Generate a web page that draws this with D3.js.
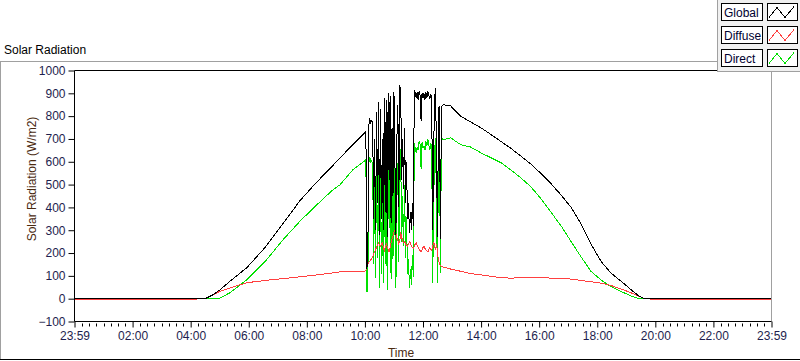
<!DOCTYPE html>
<html>
<head>
<meta charset="utf-8">
<script src="https://cdn.jsdelivr.net/npm/d3@7"></script>
<style>
  body { margin: 0; background: #fff; }
  svg { display: block; font-family: "Liberation Sans", Arial, sans-serif; }
</style>
</head>
<body>
<svg id="chart" width="800" height="361"></svg>
<script>
// minutes after midnight
var minutes = [0, 60, 120, 180, 240, 253, 262, 269, 274, 286, 300, 321, 356, 394, 431, 466, 500, 530, 549, 575, 600,
  602, 604, 606, 608, 610, 612, 614, 616, 618, 620, 622, 624, 626, 628, 630, 632, 634, 636, 638, 640,
  642, 644, 646, 648, 650, 652, 654, 656, 658, 660, 662, 664, 666, 668, 670, 672, 674, 676, 678, 680,
  682, 684, 686, 688, 690, 692, 694, 696, 698, 700, 702, 704, 706, 708, 710, 712, 714, 716, 718, 720,
  722, 724, 726, 728, 730, 732, 734, 736, 738, 740, 742, 744, 746, 748, 750, 752, 754, 756, 758, 760,
  762, 777, 798, 818, 839, 860, 881, 901, 922, 943, 963, 984, 1005, 1026, 1046, 1067, 1088, 1108, 1133, 1154, 1167, 1177,
  1184, 1190, 1260, 1340, 1440];

var globalRad = [0, 0, 0, 0, 0, 0, 0, 0, 4, 17, 38, 76, 136, 225, 330, 430, 510, 575, 618, 675, 728,
  736, 130, 170, 760, 790, 770, 780, 775, 350, 700, 300, 820, 420, 860, 280, 830, 350, 700, 300, 880,
  380, 870, 270, 900, 520, 890, 330, 750, 450, 905, 600, 280, 700, 850, 400, 935, 900, 520, 700, 480,
  750, 420, 600, 350, 420, 290, 380, 300, 420, 320, 915, 900, 880, 905, 870, 910, 890, 780, 900, 880,
  900, 870, 905, 880, 910, 890, 875, 895, 880, 300, 650, 880, 925, 600, 270, 830, 845, 260, 840, 845,
  850, 845, 800, 775, 750, 720, 689, 660, 625, 590, 550, 505, 455, 400, 330, 240, 163, 113, 70, 32, 10, 0,
  0, 0, 0, 0, 0];

var diffuseRad = [-5, -5, -5, -5, -5, -5, null, 0, 6, 17, 32, 47, 70, 80, 88, 96, 104, 112, 118, 118, 120,
  125, 140, 150, 160, 165, 170, 175, 185, 195, 205, 215, 225, 235, 245, 235, 230, 240, 245, 225, 210,
  225, 240, 230, 215, 205, 225, 245, 260, 275, 290, 300, 285, 265, 255, 240, 250, 290, 270, 250, 245,
  250, 240, 235, 230, 240, 250, 245, 230, 225, 220, 230, 240, 245, 235, 225, 215, 210, 205, 215, 225,
  230, 220, 215, 210, 205, 215, 225, 215, 210, 230, 250, 230, 215, 240, 200, 170, 150, 145, 140, 140,
  138, 130, 120, 110, 105, 98, 92, 90, 92, 95, 94, 90, 88, 86, 80, 74, 68, 58, 40, 22, 10, 0,
  null, -5, -5, -5, -5];

var directRad = [0, 0, 0, 0, 0, 0, 0, 0, 0, 0, 2, 26, 83, 163, 259, 340, 410, 470, 500, 565, 605,
  610, 30, 40, 595, 620, 600, 605, 590, 150, 490, 90, 600, 180, 610, 45, 600, 110, 450, 70, 640,
  150, 630, 40, 665, 310, 660, 85, 490, 175, 640, 300, 45, 430, 595, 160, 670, 610, 250, 450, 230,
  500, 180, 360, 110, 175, 45, 130, 60, 190, 95, 680, 660, 640, 665, 650, 690, 675, 570, 685, 660,
  670, 650, 690, 670, 700, 675, 650, 680, 665, 70, 400, 650, 705, 360, 70, 660, 690, 114, 700, 700,
  697, 705, 675, 665, 640, 618, 596, 565, 530, 490, 440, 380, 320, 250, 185, 120, 82, 53, 28, 8, 0, 0,
  0, 0, 0, 0, 0];

var seriesNames = ["Global", "Diffuse", "Direct"];
var seriesColors = ["#000000", "#ff4040", "#00e000"];
var timeTickValues = [0, 120, 240, 360, 480, 600, 720, 840, 960, 1080, 1200, 1320, 1440];
var timeTickLabels = ["23:59", "02:00", "04:00", "06:00", "08:00", "10:00", "12:00", "14:00", "16:00", "18:00", "20:00", "22:00", "23:59"];
var yTickValues = [-100, 0, 100, 200, 300, 400, 500, 600, 700, 800, 900, 1000];

var svg = d3.select("#chart");
var plotLeft = 74.5, plotRight = 771.5, plotTop = 70.5, plotBottom = 321.5;

var x = d3.scaleLinear().domain([0, 1440]).range([plotLeft, plotRight]);
var y = d3.scaleLinear().domain([-100, 1000]).range([plotBottom, plotTop]);

// outer panel frame
svg.append("line").attr("x1", 0).attr("x2", 717).attr("y1", 61.5).attr("y2", 61.5).attr("stroke", "#a0a0a0");
svg.append("line").attr("x1", 0.5).attr("x2", 0.5).attr("y1", 61).attr("y2", 360).attr("stroke", "#a0a0a0");
svg.append("line").attr("x1", 0).attr("x2", 800).attr("y1", 359.5).attr("y2", 359.5).attr("stroke", "#000");

svg.append("text").attr("x", 4).attr("y", 54).attr("font-size", "12px").attr("fill", "#000").text("Solar Radiation");

// series lines: direct under diffuse under global
var rows = minutes.map(function (m, i) {
  return { t: m, v: [globalRad[i], diffuseRad[i], directRad[i]] };
});
var plot = svg.append("g");
[2, 1, 0].forEach(function (k) {
  var line = d3.line()
    .defined(function (d) { return d.v[k] !== null; })
    .x(function (d) { return x(d.t); })
    .y(function (d) { return y(d.v[k]); });
  plot.append("path")
    .datum(rows)
    .attr("d", line)
    .attr("fill", "none")
    .attr("stroke", seriesColors[k])
    .attr("stroke-width", 1)
    .attr("shape-rendering", "crispEdges");
});

// plot frame
svg.append("line").attr("x1", plotLeft).attr("x2", plotRight + 0.5).attr("y1", plotTop).attr("y2", plotTop).attr("stroke", "#000");
svg.append("line").attr("x1", plotLeft).attr("x2", plotLeft).attr("y1", plotTop).attr("y2", plotBottom).attr("stroke", "#000");
svg.append("line").attr("x1", plotRight).attr("x2", plotRight).attr("y1", plotTop).attr("y2", plotBottom).attr("stroke", "#a0a0a0");
svg.append("line").attr("x1", plotLeft).attr("x2", plotRight).attr("y1", plotBottom).attr("y2", plotBottom).attr("stroke", "#000");

// y axis
var yAxis = d3.axisLeft(y).tickValues(yTickValues).tickSize(6).tickPadding(3).tickFormat(d3.format("d"));
var gy = svg.append("g").attr("transform", "translate(" + plotLeft + ",0)").call(yAxis);
gy.select(".domain").remove();
gy.selectAll("text").attr("font-size", "12px").attr("fill", "#1e1e4e").attr("font-family", "Liberation Sans, Arial, sans-serif");

// x axis: minor ticks every 15 minutes
var minorTicks = d3.range(0, 1441, 15).filter(function (m) { return m % 120 !== 0; });
svg.append("g").selectAll("line").data(minorTicks).enter().append("line")
  .attr("x1", function (d) { return Math.round(x(d)) + 0.5; })
  .attr("x2", function (d) { return Math.round(x(d)) + 0.5; })
  .attr("y1", plotBottom + 2).attr("y2", plotBottom + 5)
  .attr("stroke", "#000");
var xAxis = d3.axisBottom(x).tickValues(timeTickValues).tickSize(6).tickPadding(4)
  .tickFormat(function (d, i) { return timeTickLabels[i]; });
var gx = svg.append("g").attr("transform", "translate(0," + plotBottom + ")").call(xAxis);
gx.select(".domain").remove();
gx.selectAll("text").attr("font-size", "12px").attr("fill", "#1e1e4e").attr("font-family", "Liberation Sans, Arial, sans-serif");

// axis titles
svg.append("text").attr("transform", "translate(36,179) rotate(-90)")
  .attr("text-anchor", "middle").attr("font-size", "12px").attr("fill", "#4a2a10")
  .text("Solar Radiation (W/m2)");
svg.append("text").attr("x", 401).attr("y", 357).attr("text-anchor", "middle")
  .attr("font-size", "12px").attr("fill", "#4a2a10").text("Time");

// legend
var legend = svg.append("g");
legend.append("rect").attr("x", 717.5).attr("y", -1).attr("width", 84).attr("height", 72.5)
  .attr("fill", "#f0f0f0").attr("stroke", "#a0a0a0");
seriesNames.forEach(function (name, i) {
  var rowTop = 3.5 + i * 23;
  legend.append("rect").attr("x", 721.5).attr("y", rowTop).attr("width", 41).attr("height", 17)
    .attr("fill", "#fff").attr("stroke", "#000");
  legend.append("text").attr("x", 724).attr("y", rowTop + 13).attr("font-size", "12px")
    .attr("fill", "#000030").text(name);
  legend.append("rect").attr("x", 767.5).attr("y", rowTop).attr("width", 30).attr("height", 17)
    .attr("fill", "#fff").attr("stroke", "#000");
  legend.append("path")
    .attr("d", d3.line()([[769, rowTop + 14], [777, rowTop + 4], [785, rowTop + 14], [794, rowTop + 3]]))
    .attr("fill", "none").attr("stroke", seriesColors[i]).attr("shape-rendering", "crispEdges");
});
</script>
</body>
</html>
